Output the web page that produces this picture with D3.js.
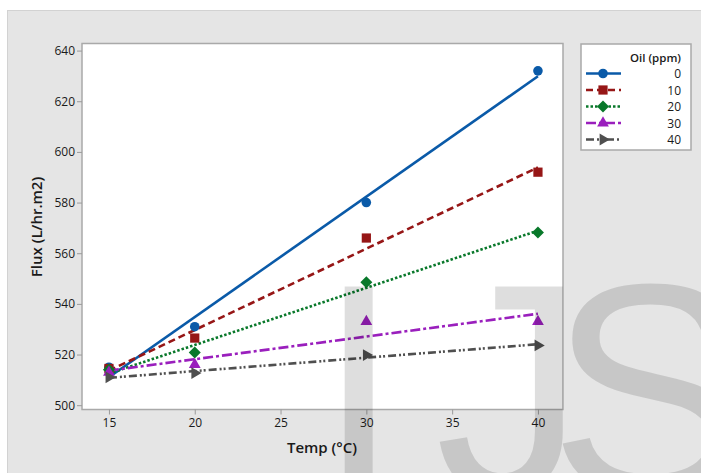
<!DOCTYPE html>
<html>
<head>
<meta charset="utf-8">
<script src="https://cdn.jsdelivr.net/npm/d3@7"></script>
<style>
  body { margin: 0; background: #fff; }
  svg { display: block; font-family: "Open Sans", "Noto Sans", sans-serif; }
</style>
</head>
<body>
<div id="chart"></div>
<script>
// values
var temps = [15, 20, 30, 40];
var oilLevels = ["0", "10", "20", "30", "40"];
var flux0  = [515, 531, 580, 632];
var flux10 = [514.5, 526.5, 566, 592];
var flux20 = [514, 520.8, 548.5, 568.2];
var flux30 = [513, 516, 533, 533];
var flux40 = [511, 512.7, 519.8, 523.6];
var xTicks = [15, 20, 25, 30, 35, 40];
var yTicks = [500, 520, 540, 560, 580, 600, 620, 640];

var seriesValues = [flux0, flux10, flux20, flux30, flux40];
var colors = ["#0a5aa8", "#961616", "#08782a", "#9a1fbd", "#4f4f4f"];
var dashes = [null, "7,4", "2.5,2", "10,3,3,3", "8,3,2,2,2,3"];
var shapes = ["circle", "square", "diamond", "triangle", "right"];

var W = 701, H = 473;
var plot = { left: 82, top: 43.5, right: 563, bottom: 409.5 };

var svg = d3.select("#chart").append("svg")
  .attr("width", W)
  .attr("height", H);

// figure background
svg.append("rect")
  .attr("x", 7.5).attr("y", 10.5)
  .attr("width", W).attr("height", H)
  .style("fill", "#e5e5e5")
  .style("stroke", "#d2d2d2");

var x = d3.scaleLinear().domain([13.43, 41.46]).range([plot.left, plot.right]);
var y = d3.scaleLinear().domain([498.3, 642.8]).range([plot.bottom, plot.top]);

svg.append("rect")
  .attr("x", plot.left).attr("y", plot.top)
  .attr("width", plot.right - plot.left)
  .attr("height", plot.bottom - plot.top)
  .style("fill", "#fff")
  .style("stroke", "#a9a9a9")
  .style("stroke-width", 1.5);

var xAxis = svg.append("g")
  .attr("transform", "translate(0," + plot.bottom + ")")
  .call(d3.axisBottom(x).tickValues(xTicks).tickSize(5).tickPadding(4));
var yAxis = svg.append("g")
  .attr("transform", "translate(" + plot.left + ",0)")
  .call(d3.axisLeft(y).tickValues(yTicks).tickSize(5).tickPadding(2));

[xAxis, yAxis].forEach(function(a) {
  a.select(".domain").remove();
  a.selectAll(".tick line").style("stroke", "#9a9a9a");
  a.selectAll(".tick text")
    .style("font-size", "12px")
    .style("fill", "#1a1a1a")
    .style("font-family", "'Open Sans', sans-serif");
});

svg.append("text")
  .attr("x", 322).attr("y", 453)
  .attr("text-anchor", "middle")
  .style("font-size", "15px")
  .style("font-weight", 600)
  .style("fill", "#1a1a1a")
  .text("Temp (\u00B0C)");

svg.append("text")
  .attr("transform", "translate(42,227) rotate(-90)")
  .attr("text-anchor", "middle")
  .style("font-size", "15px")
  .style("font-weight", 600)
  .style("fill", "#1a1a1a")
  .text("Flux (L/hr.m2)");

function symbolFor(shape) {
  if (shape == "circle") return d3.symbol().type(d3.symbolCircle).size(72)();
  if (shape == "square") return d3.symbol().type(d3.symbolSquare).size(85)();
  if (shape == "diamond") return d3.symbol().type(d3.symbolSquare).size(72)();
  return d3.symbol().type(d3.symbolTriangle).size(60)();
}
function rotFor(shape) {
  if (shape == "diamond") return 45;
  if (shape == "right") return 90;
  return 0;
}

// least squares fit
function fit(vals) {
  var mx = d3.mean(temps), my = d3.mean(vals);
  var sxy = d3.sum(temps, function(t, i) { return (t - mx) * (vals[i] - my); });
  var sxx = d3.sum(temps, function(t) { return (t - mx) * (t - mx); });
  var b = sxy / sxx;
  return function(t) { return my + b * (t - mx); };
}

var xEnds = d3.extent(temps);
var line = d3.line().x(function(d) { return x(d[0]); }).y(function(d) { return y(d[1]); });

seriesValues.forEach(function(vals, s) {
  var f = fit(vals);
  svg.append("path")
    .attr("d", line(xEnds.map(function(t) { return [t, f(t)]; })))
    .style("fill", "none")
    .style("stroke", colors[s])
    .style("stroke-width", 2.6)
    .style("stroke-dasharray", dashes[s]);
});

seriesValues.forEach(function(vals, s) {
  svg.selectAll(null)
    .data(vals)
    .enter().append("path")
    .attr("d", symbolFor(shapes[s]))
    .attr("transform", function(d, i) {
      return "translate(" + x(temps[i]) + "," + y(d) + ") rotate(" + rotFor(shapes[s]) + ")";
    })
    .style("fill", colors[s]);
});

// legend
var lg = svg.append("g");
lg.append("rect")
  .attr("x", 581).attr("y", 44)
  .attr("width", 110).attr("height", 106)
  .style("fill", "#fff")
  .style("stroke", "#a9a9a9")
  .style("stroke-width", 1.5);
lg.append("text")
  .attr("x", 681).attr("y", 62)
  .attr("text-anchor", "end")
  .style("font-size", "11.5px")
  .style("font-weight", 600)
  .style("fill", "#1a1a1a")
  .text("Oil (ppm)");

var rowY = d3.scalePoint().domain(oilLevels).range([73.5, 139.5]);
oilLevels.forEach(function(lvl, s) {
  var yy = rowY(lvl);
  lg.append("line")
    .attr("x1", 586).attr("x2", 621)
    .attr("y1", yy).attr("y2", yy)
    .style("stroke", colors[s])
    .style("stroke-width", 2.6)
    .style("stroke-dasharray", dashes[s]);
  lg.append("path")
    .attr("d", symbolFor(shapes[s]))
    .attr("transform", "translate(603," + yy + ") rotate(" + rotFor(shapes[s]) + ")")
    .style("fill", colors[s]);
  lg.append("text")
    .attr("x", 681).attr("y", yy + 4.5)
    .attr("text-anchor", "end")
    .style("font-size", "12px")
    .style("fill", "#1a1a1a")
    .text(lvl);
});

// watermark letters
var wmLetters = ["I", "J", "S"];
var wmX = [317, 435, 549];
svg.selectAll(null)
  .data(wmLetters)
  .enter().append("text")
  .attr("x", function(d, i) { return wmX[i]; })
  .attr("y", 493)
  .style("font-family", "'Liberation Sans', Arial, sans-serif")
  .style("font-size", "300px")
  .style("fill", "#000")
  .style("fill-opacity", 0.13)
  .text(function(d) { return d; });
</script>
</body>
</html>
